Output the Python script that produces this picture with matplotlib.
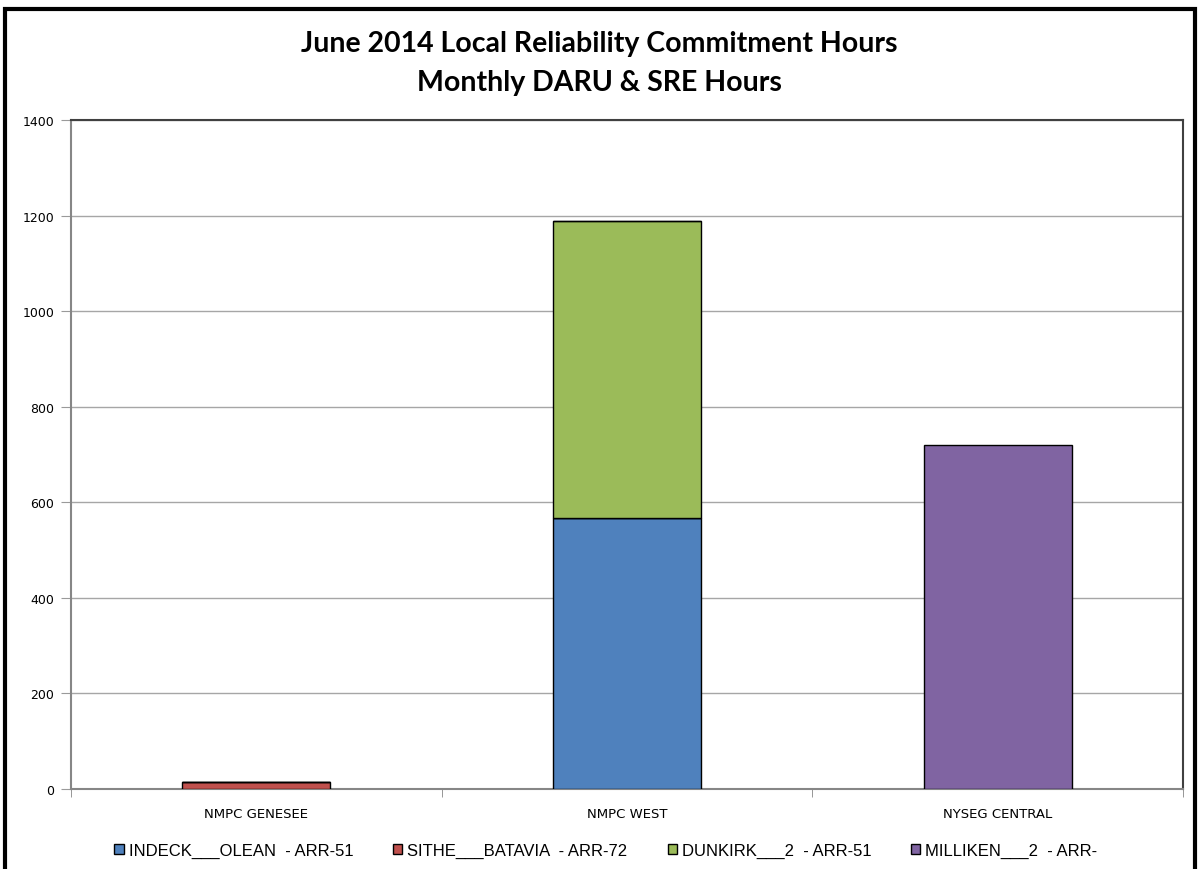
import matplotlib.pyplot as plt
import numpy as np
from matplotlib.patches import Rectangle

categories = ["NMPC GENESEE", "NMPC WEST", "NYSEG CENTRAL"]
series_names = [
    "INDECK___OLEAN  - ARR-51",
    "SITHE___BATAVIA  - ARR-72",
    "DUNKIRK___2  - ARR-51",
    "MILLIKEN___2  - ARR-",
]
indeck = [0, 567, 0]
sithe = [15, 0, 0]
dunkirk = [0, 622, 0]
milliken = [0, 0, 720]
colors = ["#4F81BD", "#C0504D", "#9BBB59", "#8064A2"]
yticks = [0, 200, 400, 600, 800, 1000, 1200, 1400]

fig = plt.figure(figsize=(11.98, 8.70), dpi=100)
ax = fig.add_axes([71 / 1198, 80 / 870, 1112 / 1198, 669 / 870])

x = np.arange(len(categories))
bottom = np.zeros(len(categories))
for name, vals, c in zip(series_names, [indeck, sithe, dunkirk, milliken], colors):
    vals = np.array(vals, dtype=float)
    ax.bar(x, vals, width=0.4, bottom=bottom, color=c, edgecolor="black",
           linewidth=1, label=name, zorder=3)
    bottom += vals

ax.set_xlim(-0.5, len(categories) - 0.5)
ax.set_ylim(0, 1400)
ax.set_yticks(yticks)
ax.set_yticklabels([str(v) for v in yticks], fontsize=9, family="DejaVu Sans")
ax.yaxis.grid(True, color="#a6a6a6", linewidth=1, zorder=0)
ax.tick_params(axis="y", length=7, color="#9a9a9a", pad=5)

ax.set_xticks(x)
ax.set_xticklabels(categories, fontsize=9.5, family="DejaVu Sans")
ax.set_xticks(np.arange(len(categories) + 1) - 0.5, minor=True)
ax.tick_params(axis="x", which="major", length=0, pad=13)
ax.tick_params(axis="x", which="minor", length=6, color="#868686")

for side in ["left", "bottom"]:
    ax.spines[side].set_color("#868686")
    ax.spines[side].set_linewidth(1.5)
for side in ["top", "right"]:
    ax.spines[side].set_color("#404040")
    ax.spines[side].set_linewidth(1.5)

fig.text(0.5, 1 - 44 / 870, "June 2014 Local Reliability Commitment Hours",
         ha="center", va="center", fontsize=20.5, fontweight="bold",
         family="Lato")
fig.text(0.5, 1 - 83 / 870, "Monthly DARU & SRE Hours",
         ha="center", va="center", fontsize=20.5, fontweight="bold",
         family="Lato")

fig.legend(loc="center", bbox_to_anchor=(606 / 1198, 1 - 851 / 870), ncol=4,
           frameon=False, handlelength=0.55, handleheight=0.55,
           handletextpad=0.3, columnspacing=2.4,
           prop={"family": "Liberation Sans", "size": 12})

# outer chart border
fig.add_artist(Rectangle((5 / 1198, -0.05), 1190 / 1198, 1.05 - 10 / 870,
                         transform=fig.transFigure, fill=False,
                         edgecolor="black", linewidth=3))

fig.savefig("out.png", dpi=100)
